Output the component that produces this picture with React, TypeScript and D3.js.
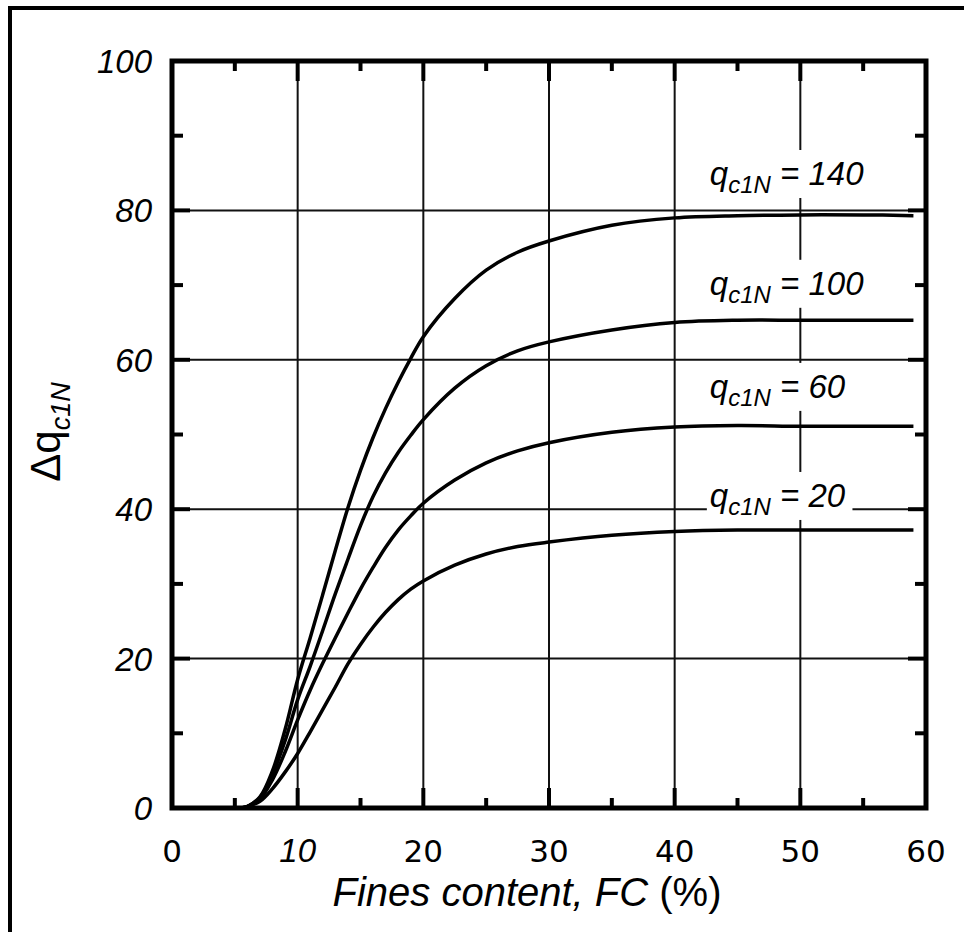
import React from 'react';
import * as d3 from 'd3';

const FC = [5.5, 6, 7, 8, 9, 10, 11, 12, 13, 14, 15, 16, 17, 18, 19, 20, 22.5, 25, 27.5, 30, 35, 40, 45, 50, 55, 59];
const Q140 = [0, 0.2, 1.5, 5, 10.5, 17.2, 22.8, 28.6, 34.5, 40.2, 45.2, 49.6, 53.5, 57, 60.2, 63.1, 68.2, 72, 74.4, 75.9, 78, 79, 79.3, 79.4, 79.4, 79.3];
const Q100 = [0, 0.2, 1.4, 4.5, 9, 14.5, 19, 23.8, 28.7, 33.3, 37.8, 41.7, 44.9, 47.6, 49.9, 52, 56.2, 59.2, 61.2, 62.4, 64, 65, 65.3, 65.3, 65.3, 65.3];
const Q60 = [0, 0.2, 1.2, 3.8, 7.5, 11.8, 15.8, 19.4, 22.8, 26.1, 29.3, 32.2, 34.9, 37.2, 39.1, 40.8, 43.9, 46.2, 47.8, 48.9, 50.3, 51, 51.2, 51.1, 51.1, 51.1];
const Q20 = [0, 0.2, 0.9, 2.6, 4.8, 7.3, 10.2, 13.2, 16.2, 19.3, 21.9, 24.2, 26.2, 27.9, 29.3, 30.4, 32.5, 34, 35, 35.6, 36.5, 37, 37.2, 37.2, 37.2, 37.2];
const SERIES = [Q140, Q100, Q60, Q20];

const LABEL_VALUES = ['140', '100', '60', '20'];
const LABEL_FC = 42.8;
const LABEL_Y = [83.4, 68.7, 54.9, 40.3];

const X_TICKS = [0, 10, 20, 30, 40, 50, 60];
const X_TICK_LABELS = ['0', '10', '20', '30', '40', '50', '60'];
const X_MINOR = [5, 15, 25, 35, 45, 55];
const Y_TICKS = [0, 20, 40, 60, 80, 100];
const Y_TICK_LABELS = ['0', '20', '40', '60', '80', '100'];
const Y_MINOR = [10, 30, 50, 70, 90];

const X_LABEL_MAIN = 'Fines content, FC ';
const X_LABEL_UNIT = '(%)';

export default function App() {
  const L = 172, R = 926, T = 61, B = 808;
  const x = d3.scaleLinear().domain([0, 60]).range([L, R]);
  const y = d3.scaleLinear().domain([0, 100]).range([B, T]);
  const line = d3.line<number>()
    .x((_, i) => x(FC[i]))
    .y((d) => y(d))
    .curve(d3.curveCatmullRom.alpha(0.5));

  const sans = 'Liberation Sans, Arial, Helvetica, sans-serif';
  const verd = 'DejaVu Sans, Verdana, sans-serif';

  return (
    <svg width={964} height={932} style={{ position: 'absolute', left: 0, top: 0, background: '#fff' }}>
      <rect x={0} y={0} width={964} height={932} fill="#fff" />
      {/* outer frame (top and left) */}
      <line x1={8} x2={964} y1={8} y2={8} stroke="#000" strokeWidth={4} />
      <line x1={10} x2={10} y1={6} y2={932} stroke="#000" strokeWidth={4} />

      {/* grid */}
      {X_TICKS.filter((t) => t > 0 && t < 60).map((t) => (
        <line key={'gx' + t} x1={x(t)} x2={x(t)} y1={T} y2={B} stroke="#111" strokeWidth={2} />
      ))}
      {Y_TICKS.filter((t) => t > 0 && t < 100).map((t) => (
        <line key={'gy' + t} x1={L} x2={R} y1={y(t)} y2={y(t)} stroke="#111" strokeWidth={2} />
      ))}

      {/* label background boxes */}
      {LABEL_VALUES.map((v, i) => (
        <rect key={'lb' + i} x={x(LABEL_FC) - 3} y={y(LABEL_Y[i]) - 35}
          width={108 + v.length * 18.8} height={48} fill="#fff" />
      ))}

      {/* curves */}
      {SERIES.map((s, i) => (
        <path key={'c' + i} d={line(s) || ''} fill="none" stroke="#000" strokeWidth={3.5} strokeLinejoin="round" />
      ))}

      {/* ticks */}
      {X_TICKS.filter((t) => t > 0 && t < 60).map((t) => (
        <g key={'tx' + t}>
          <line x1={x(t)} x2={x(t)} y1={B} y2={B - 20} stroke="#000" strokeWidth={4} />
          <line x1={x(t)} x2={x(t)} y1={T} y2={T + 20} stroke="#000" strokeWidth={4} />
        </g>
      ))}
      {X_MINOR.map((t) => (
        <g key={'mx' + t}>
          <line x1={x(t)} x2={x(t)} y1={B} y2={B - 10} stroke="#000" strokeWidth={4} />
          <line x1={x(t)} x2={x(t)} y1={T} y2={T + 10} stroke="#000" strokeWidth={4} />
        </g>
      ))}
      {Y_TICKS.filter((t) => t > 0 && t < 100).map((t) => (
        <g key={'ty' + t}>
          <line x1={L} x2={L + 18} y1={y(t)} y2={y(t)} stroke="#000" strokeWidth={4} />
          <line x1={R} x2={R - 18} y1={y(t)} y2={y(t)} stroke="#000" strokeWidth={4} />
        </g>
      ))}
      {Y_MINOR.map((t) => (
        <g key={'my' + t}>
          <line x1={L} x2={L + 11} y1={y(t)} y2={y(t)} stroke="#000" strokeWidth={4} />
          <line x1={R} x2={R - 11} y1={y(t)} y2={y(t)} stroke="#000" strokeWidth={4} />
        </g>
      ))}

      {/* plot frame */}
      <rect x={L} y={T} width={R - L} height={B - T} fill="none" stroke="#000" strokeWidth={5} />

      {/* x tick labels */}
      {X_TICKS.map((t, i) => {
        const it = X_TICK_LABELS[i] === '10';
        return (
          <text key={'xl' + t} x={x(t)} y={862} textAnchor="middle"
            fontFamily={it ? sans : verd} fontStyle={it ? 'italic' : 'normal'}
            fontSize={it ? 33 : 31} fill="#000">{X_TICK_LABELS[i]}</text>
        );
      })}

      {/* y tick labels */}
      {Y_TICKS.map((t, i) => (
        <text key={'yl' + t} x={152} y={y(t) + 12} textAnchor="end"
          fontFamily={sans} fontStyle="italic" fontSize={33} fill="#000">{Y_TICK_LABELS[i]}</text>
      ))}

      {/* curve labels */}
      {LABEL_VALUES.map((v, i) => (
        <text key={'lt' + i} x={x(LABEL_FC)} y={y(LABEL_Y[i])} fontFamily={sans}
          fontStyle="italic" fontSize={33} fill="#000" style={{ whiteSpace: 'pre' }}>
          <tspan>q</tspan>
          <tspan fontSize={24} dy={8}>c1N</tspan>
          <tspan dy={-8}>{' = ' + v}</tspan>
        </text>
      ))}

      {/* axis titles */}
      <text x={527} y={906} textAnchor="middle" fontFamily={sans} fontSize={40} fill="#000" style={{ whiteSpace: 'pre' }}>
        <tspan fontStyle="italic">{X_LABEL_MAIN}</tspan>
        <tspan>{X_LABEL_UNIT}</tspan>
      </text>
      <text transform="translate(60,432) rotate(-90)" textAnchor="middle" fontFamily={sans} fill="#000">
        <tspan fontSize={42}>Δq</tspan>
        <tspan fontSize={27} fontStyle="italic" dy={10}>c1N</tspan>
      </text>
    </svg>
  );
}
